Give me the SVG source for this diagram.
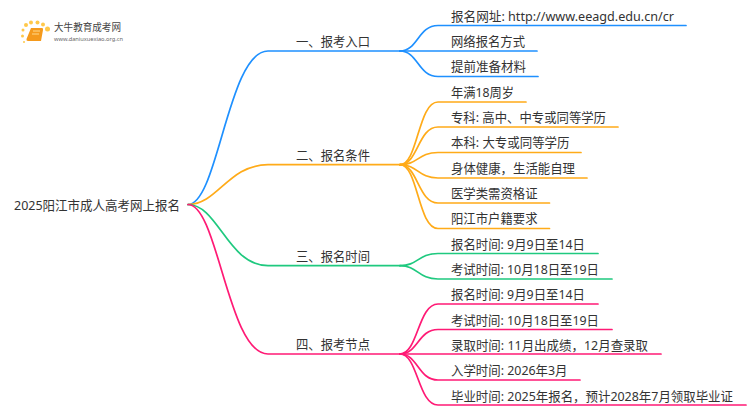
<svg xmlns="http://www.w3.org/2000/svg" width="750" height="410" viewBox="0 0 750 410">
<style>
text{font-family:"Noto Sans","Noto Sans CJK SC",sans-serif;font-size:13px;fill:#333}
.c{fill:none;stroke-width:1.700;stroke-linecap:round}
.b{stroke:#1e90ff}.o{stroke:#ffab19}.g{stroke:#1fc97f}.p{stroke:#ff1a75}
</style>
<rect width="750" height="410" fill="#fff"/>
<g id="logo">
<g fill="#ffc84a"><circle cx="23" cy="30" r="1.500"/><circle cx="26" cy="25" r="2"/><circle cx="31" cy="22.500" r="2"/><circle cx="37.500" cy="22.500" r="2"/><circle cx="43" cy="24.500" r="2"/><circle cx="47.500" cy="29" r="2.500"/><circle cx="22.500" cy="36" r="1.500"/><circle cx="24" cy="42" r="1"/></g>
<path d="M31 28h11q1.500 0 1 2l-2 11h-13q-2 0-1.500-2z" fill="#f59a1c"/>
<path d="M33 31h7M32 34h7" stroke="#ffd98a" stroke-width="1"/>
<text x="54" y="31" textLength="67" lengthAdjust="spacingAndGlyphs" style="font-size:10px;fill:#444">大牛教育成考网</text>
<text x="54" y="41" textLength="69" lengthAdjust="spacingAndGlyphs" style="font-size:5.500px;fill:#666">www.daniuxuexiao.org.cn</text>
</g>
<g id="connectors">
<path class="c b" d="M188 204.500C218 204.500 228 51 268 51H400"/>
<path class="c o" d="M188 204.500C218 204.500 228 164.700 268 164.700H400"/>
<path class="c g" d="M188 204.500C218 204.500 228 265.700 268 265.700H400"/>
<path class="c p" d="M188 204.500C218 204.500 228 354 268 354H400"/>
<path class="c b" d="M400 51C418 51 418 25.500 438 25.500H686"/>
<path class="c b" d="M400 51H537"/>
<path class="c b" d="M400 51C418 51 418 76.500 438 76.500H538"/>
<path class="c o" d="M400 164.700C418 164.700 418 102 438 102H526"/>
<path class="c o" d="M400 164.700C418 164.700 418 127 438 127H618"/>
<path class="c o" d="M400 164.700C418 164.700 418 152.500 438 152.500H581"/>
<path class="c o" d="M400 164.700C418 164.700 418 178 438 178H587"/>
<path class="c o" d="M400 164.700C418 164.700 418 203 438 203H549.500"/>
<path class="c o" d="M400 164.700C418 164.700 418 228.500 438 228.500H549.500"/>
<path class="c g" d="M400 265.700C418 265.700 418 253.500 438 253.500H598"/>
<path class="c g" d="M400 265.700C418 265.700 418 279 438 279H612"/>
<path class="c p" d="M400 354C418 354 418 304 438 304H598"/>
<path class="c p" d="M400 354C418 354 418 329.500 438 329.500H612"/>
<path class="c p" d="M400 354H661"/>
<path class="c p" d="M400 354C418 354 418 380 438 380H580"/>
<path class="c p" d="M400 354C418 354 418 405 438 405H746"/>
</g>
<g id="root"><text x="14" y="210" textLength="166" lengthAdjust="spacingAndGlyphs">2025阳江市成人高考网上报名</text></g>
<g id="b1"><text x="296" y="46" textLength="74" lengthAdjust="spacingAndGlyphs">一、报考入口</text></g>
<g id="b2"><text x="296" y="160" textLength="74" lengthAdjust="spacingAndGlyphs">二、报名条件</text></g>
<g id="b3"><text x="296" y="261" textLength="74" lengthAdjust="spacingAndGlyphs">三、报名时间</text></g>
<g id="b4"><text x="296" y="349" textLength="74" lengthAdjust="spacingAndGlyphs">四、报考节点</text></g>
<g id="l1"><text x="451" y="20.500" textLength="223" lengthAdjust="spacingAndGlyphs">报名网址: http://www.eeagd.edu.cn/cr</text></g>
<g id="l2"><text x="451" y="46" textLength="74" lengthAdjust="spacingAndGlyphs">网络报名方式</text></g>
<g id="l3"><text x="451" y="71" textLength="75" lengthAdjust="spacingAndGlyphs">提前准备材料</text></g>
<g id="l4"><text x="451" y="96.500" textLength="63" lengthAdjust="spacingAndGlyphs">年满18周岁</text></g>
<g id="l5"><text x="451" y="122" textLength="155" lengthAdjust="spacingAndGlyphs">专科: 高中、中专或同等学历</text></g>
<g id="l6"><text x="451" y="147" textLength="118.500" lengthAdjust="spacingAndGlyphs">本科: 大专或同等学历</text></g>
<g id="l7"><text x="451" y="172.500" textLength="124" lengthAdjust="spacingAndGlyphs">身体健康，生活能自理</text></g>
<g id="l8"><text x="451" y="198" textLength="86.500" lengthAdjust="spacingAndGlyphs">医学类需资格证</text></g>
<g id="l9"><text x="451" y="223" textLength="86.500" lengthAdjust="spacingAndGlyphs">阳江市户籍要求</text></g>
<g id="l10"><text x="451" y="248.500" textLength="134" lengthAdjust="spacingAndGlyphs">报名时间: 9月9日至14日</text></g>
<g id="l11"><text x="451" y="274" textLength="148" lengthAdjust="spacingAndGlyphs">考试时间: 10月18日至19日</text></g>
<g id="l12"><text x="451" y="299" textLength="134" lengthAdjust="spacingAndGlyphs">报名时间: 9月9日至14日</text></g>
<g id="l13"><text x="451" y="324.500" textLength="148" lengthAdjust="spacingAndGlyphs">考试时间: 10月18日至19日</text></g>
<g id="l14"><text x="451" y="350" textLength="197" lengthAdjust="spacingAndGlyphs">录取时间: 11月出成绩，12月查录取</text></g>
<g id="l15"><text x="451" y="375" textLength="116.500" lengthAdjust="spacingAndGlyphs">入学时间: 2026年3月</text></g>
<g id="l16"><text x="451" y="400.500" textLength="282" lengthAdjust="spacingAndGlyphs">毕业时间: 2025年报名，预计2028年7月领取毕业证</text></g>
</svg>
